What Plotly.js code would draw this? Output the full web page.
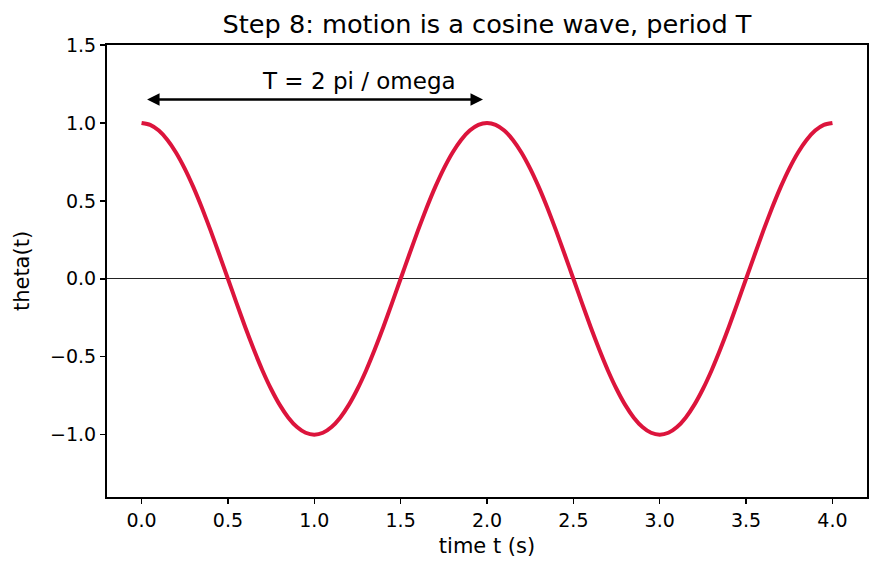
<!DOCTYPE html>
<html>
<head>
<meta charset="utf-8">
<script src="https://cdn.plot.ly/plotly-3.0.1.min.js"></script>
<style>html,body{margin:0;padding:0;background:#fff;}#chart{width:880px;height:573px;}</style>
</head>
<body>
<div id="chart"></div>
<script>
const timeS = [0.00,0.05,0.10,0.15,0.20,0.25,0.30,0.35,0.40,0.45,0.50,0.55,0.60,0.65,0.70,0.75,0.80,0.85,0.90,0.95,
               1.00,1.05,1.10,1.15,1.20,1.25,1.30,1.35,1.40,1.45,1.50,1.55,1.60,1.65,1.70,1.75,1.80,1.85,1.90,1.95,
               2.00,2.05,2.10,2.15,2.20,2.25,2.30,2.35,2.40,2.45,2.50,2.55,2.60,2.65,2.70,2.75,2.80,2.85,2.90,2.95,
               3.00,3.05,3.10,3.15,3.20,3.25,3.30,3.35,3.40,3.45,3.50,3.55,3.60,3.65,3.70,3.75,3.80,3.85,3.90,3.95,4.00];
const theta = [1.000,0.988,0.951,0.891,0.809,0.707,0.588,0.454,0.309,0.156,0.000,-0.156,-0.309,-0.454,-0.588,-0.707,-0.809,-0.891,-0.951,-0.988,
               -1.000,-0.988,-0.951,-0.891,-0.809,-0.707,-0.588,-0.454,-0.309,-0.156,0.000,0.156,0.309,0.454,0.588,0.707,0.809,0.891,0.951,0.988,
               1.000,0.988,0.951,0.891,0.809,0.707,0.588,0.454,0.309,0.156,0.000,-0.156,-0.309,-0.454,-0.588,-0.707,-0.809,-0.891,-0.951,-0.988,
               -1.000,-0.988,-0.951,-0.891,-0.809,-0.707,-0.588,-0.454,-0.309,-0.156,0.000,0.156,0.309,0.454,0.588,0.707,0.809,0.891,0.951,0.988,1.000];
const periodStart = 0.0;
const periodEnd = 2.0;
const arrowY = 1.15;
const periodLabel = "T = 2 pi / omega";
const titleText = "Step 8: motion is a cosine wave, period T";
const xLabel = "time t (s)";
const yLabel = "theta(t)";

const font = "DejaVu Sans";
const trace = {
  x: timeS, y: theta, type: 'scatter', mode: 'lines',
  line: {color: '#DC143C', width: 4, shape: 'spline', smoothing: 0.6},
  hoverinfo: 'skip'
};
const axCommon = {
  showgrid: false, showline: true, mirror: true, linecolor: '#000', linewidth: 2,
  ticks: 'outside', ticklen: 5, tickwidth: 1.5, tickcolor: '#000',
  tickfont: {family: font, size: 19, color: '#000'}
};
const layout = {
  width: 880, height: 573,
  margin: {l: 107, r: 13, t: 45, b: 76},
  paper_bgcolor: '#fff', plot_bgcolor: '#fff',
  showlegend: false,
  font: {family: font, color: '#000'},
  title: {text: titleText, font: {family: font, size: 25.6, color: '#000'},
          x: 0.5, xref: 'paper', y: 1 - 24/573, yref: 'container', yanchor: 'middle'},
  xaxis: Object.assign({}, axCommon, {
    range: [-0.2, 4.2], tickmode: 'linear', tick0: 0, dtick: 0.5, tickformat: '.1f',
    zeroline: false,
    title: {text: xLabel, font: {family: font, size: 21, color: '#000'}, standoff: 9}
  }),
  yaxis: Object.assign({}, axCommon, {
    range: [-1.4, 1.5], tickmode: 'linear', tick0: 0, dtick: 0.5, tickformat: '.1f',
    zeroline: true, zerolinecolor: '#222', zerolinewidth: 1.4,
    title: {text: yLabel, font: {family: font, size: 21, color: '#000'}, standoff: 15}
  }),
  annotations: [
    {x: periodEnd, y: arrowY, ax: periodStart, ay: arrowY, xref: 'x', yref: 'y', axref: 'x', ayref: 'y',
     text: '', showarrow: true, arrowside: 'end+start', arrowhead: 2, startarrowhead: 2,
     arrowsize: 1, startarrowsize: 1, arrowwidth: 2.5, arrowcolor: '#000', standoff: 4, startstandoff: 4},
    {x: 1.26, y: 1.272, xref: 'x', yref: 'y', text: periodLabel, showarrow: false,
     xanchor: 'center', yanchor: 'middle', font: {family: font, size: 23, color: '#000'}}
  ]
};
Plotly.newPlot('chart', [trace], layout, {displayModeBar: false, staticPlot: true});
</script>
</body>
</html>
